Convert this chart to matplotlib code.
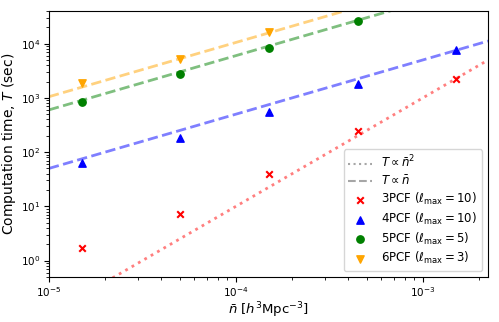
import numpy as np
import matplotlib
matplotlib.use('Agg')
import matplotlib.pyplot as plt

# Mật độ hạt (h^3 Mpc^-3) và thời gian tính (giây)
nbar = [1.5e-5, 5e-5, 1.5e-4, 4.5e-4, 1.5e-3]
t_3pcf = [1.7, 7.3, 40, 240, 2200]
t_4pcf = [62, 185, 550, 1770, 7500]
t_5pcf = [840, 2800, 8400, 26500]
t_6pcf = [1850, 5300, 16500]

# Hệ số chuẩn hóa của các đường tỉ lệ tại nbar = 1e-5
n0 = 1e-5
a_3pcf = 0.1
a_4pcf = 50
a_5pcf = 600
a_6pcf = 1050

xmin, xmax = 1e-5, 2.23e-3
ymin, ymax = 0.5, 4e4

fig = plt.figure(figsize=(4.99, 3.22), dpi=100)
ax = fig.add_axes([0.098, 0.140, 0.880, 0.826])

n = np.logspace(np.log10(xmin), np.log10(xmax), 200)
ax.plot(n, a_3pcf * (n / n0)**2, ':', color='red', alpha=0.5, lw=2)
ax.plot(n, a_4pcf * (n / n0), '--', color='blue', alpha=0.5, lw=2)
ax.plot(n, a_5pcf * (n / n0), '--', color='green', alpha=0.5, lw=2)
ax.plot(n, a_6pcf * (n / n0), '--', color='orange', alpha=0.5, lw=2)

# đường giả cho chú thích
ax.plot([], [], ':', color='gray', alpha=0.7, label=r'$T\propto\bar{n}^2$')
ax.plot([], [], '--', color='gray', alpha=0.7, label=r'$T\propto\bar{n}$')

ax.scatter(nbar, t_3pcf, marker='x', color='red', s=22, label=r'3PCF ($\ell_{\rm max}=10$)')
ax.scatter(nbar, t_4pcf, marker='^', color='blue', s=28, label=r'4PCF ($\ell_{\rm max}=10$)')
ax.scatter(nbar[:4], t_5pcf, marker='o', color='green', s=28, label=r'5PCF ($\ell_{\rm max}=5$)')
ax.scatter(nbar[:3], t_6pcf, marker='v', color='orange', s=28, label=r'6PCF ($\ell_{\rm max}=3$)')

ax.set_xscale('log')
ax.set_yscale('log')
ax.set_xlim(xmin, xmax)
ax.set_ylim(ymin, ymax)
ax.tick_params(labelsize=7.5, pad=2.5)
ax.set_xlabel(r'$\bar{n}$ [$h^3$Mpc$^{-3}$]', fontsize=9.5, labelpad=1)
ax.set_ylabel(r'Computation time, $T$ (sec)', fontsize=10, labelpad=2)
ax.legend(loc='lower right', fontsize=8.5, labelspacing=0.3, borderpad=0.4)

plt.savefig('out.png')
